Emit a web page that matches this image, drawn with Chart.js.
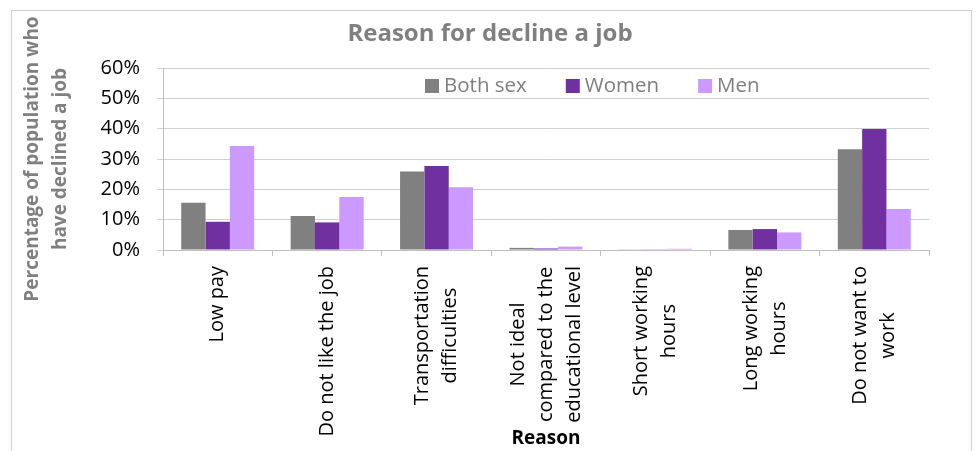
<!DOCTYPE html>
<html><head><meta charset="utf-8">
<script src="https://cdn.jsdelivr.net/npm/chart.js@4"></script>
<style>html,body{margin:0;padding:0;background:#fff}#wrap{width:976px;height:451px;position:relative}</style>
</head><body><div id="wrap"><canvas id="c" width="976" height="451"></canvas></div>
<script>
const chartTitle = "Reason for decline a job";
const categories = [["Low pay"],["Do not like the job"],["Transportation","difficulties"],["Not ideal","compared to the","educational level"],["Short working","hours"],["Long working","hours"],["Do not want to","work"]];
const seriesNames = ["Both sex","Women","Men"];
const bothSex = [15.6,11.2,25.9,0.7,0.1,6.6,33.2];
const women = [9.3,9.1,27.7,0.5,0.1,6.9,39.9];
const men = [34.3,17.5,20.7,1.1,0.4,5.8,13.5];
const yTicks = [0,10,20,30,40,50,60];
const colors = ["#808080","#7030A0","#CC99FF"];
const FONT = '"Open Sans", "DejaVu Sans", sans-serif';

const borderPlugin = {
  id:'frame',
  beforeDraw(chart){
    const ctx = chart.ctx; ctx.save();
    ctx.fillStyle='#fff'; ctx.fillRect(0,0,chart.width,chart.height);
    ctx.strokeStyle='#d0d0d0'; ctx.lineWidth=1;
    ctx.strokeRect(11.5,10.5,960,500);
    ctx.font = 'bold 24px ' + FONT;
    ctx.fillStyle = '#808080';
    ctx.textAlign = 'center';
    ctx.textBaseline = 'alphabetic';
    ctx.fillText(chartTitle, 490, 41);
    ctx.restore();
  }
};
const xLabelPlugin = {
  id:'xLabels',
  afterDraw(chart){
    const ctx = chart.ctx, x = chart.scales.x;
    ctx.save();
    ctx.font = '20px ' + FONT;
    ctx.fillStyle = '#000';
    ctx.textBaseline = 'middle';
    ctx.textAlign = 'center';
    const lh = 28;
    const top = chart.chartArea.bottom + 16;
    chart.data.labels.forEach((lines,i)=>{
      const cx = x.getPixelForValue(i);
      const maxW = Math.max(...lines.map(l=>ctx.measureText(l).width));
      lines.forEach((line,k)=>{
        const off = (k-(lines.length-1)/2)*lh;
        ctx.save();
        ctx.translate(cx+off, top + maxW/2);
        ctx.rotate(-Math.PI/2);
        ctx.fillText(line,0,0);
        ctx.restore();
      });
    });
    ctx.restore();
  }
};
const legendPlugin = {
  id:'inLegend',
  afterDraw(chart){
    const ctx = chart.ctx;
    ctx.save();
    ctx.font = '20.5px ' + FONT;
    ctx.textBaseline = 'middle';
    ctx.textAlign = 'left';
    let xPos = chart.chartArea.left + 262;
    const yc = 86;
    chart.data.datasets.forEach(ds=>{
      ctx.fillStyle = ds.backgroundColor;
      ctx.fillRect(xPos, yc-7, 14, 14);
      ctx.fillStyle = '#7f7f7f';
      ctx.fillText(ds.label, xPos+19, yc);
      xPos += 19 + ctx.measureText(ds.label).width + 39;
    });
    ctx.restore();
  }
};

new Chart(document.getElementById('c'), {
  type:'bar',
  data:{
    labels: categories,
    datasets:[
      {label:seriesNames[0], data:bothSex, backgroundColor:colors[0]},
      {label:seriesNames[1], data:women, backgroundColor:colors[1]},
      {label:seriesNames[2], data:men, backgroundColor:colors[2]}
    ]
  },
  options:{
    responsive:false, animation:false, devicePixelRatio:1,
    datasets:{bar:{barPercentage:1, categoryPercentage:0.667}},
    layout:{padding:{left:12,right:47,top:68,bottom:0}},
    plugins:{
      legend:{display:false},
      tooltip:{enabled:false},
      title:{display:false}
    },
    scales:{
      x:{
        grid:{offset:true, drawOnChartArea:false, drawTicks:true, tickLength:6, color:'#bfbfbf'},
        border:{color:'#bfbfbf'},
        ticks:{display:false},
        title:{display:true, text:'Reason', color:'#000', font:{family:FONT, size:19, weight:'bold', lineHeight:1.2}, padding:{top:0,bottom:1}},
        afterFit(s){ s.height = 201; }
      },
      y:{
        min:0, max:60,
        afterBuildTicks(s){ s.ticks = yTicks.map(v=>({value:v})); },
        grid:{color:'#d0d0d0', tickLength:6},
        border:{color:'#bfbfbf'},
        ticks:{padding:17, color:'#000', font:{family:FONT, size:20}, callback:v=>v+'%'},
        title:{display:true, text:["Percentage of population who","have declined a job"], color:'#808080',
          font:{family:FONT, size:19, weight:'bold', lineHeight:1.5}, padding:{top:6,bottom:0}},
        afterFit(s){ s.width = 151; }
      }
    }
  },
  plugins:[borderPlugin, xLabelPlugin, legendPlugin]
});
</script></body></html>
